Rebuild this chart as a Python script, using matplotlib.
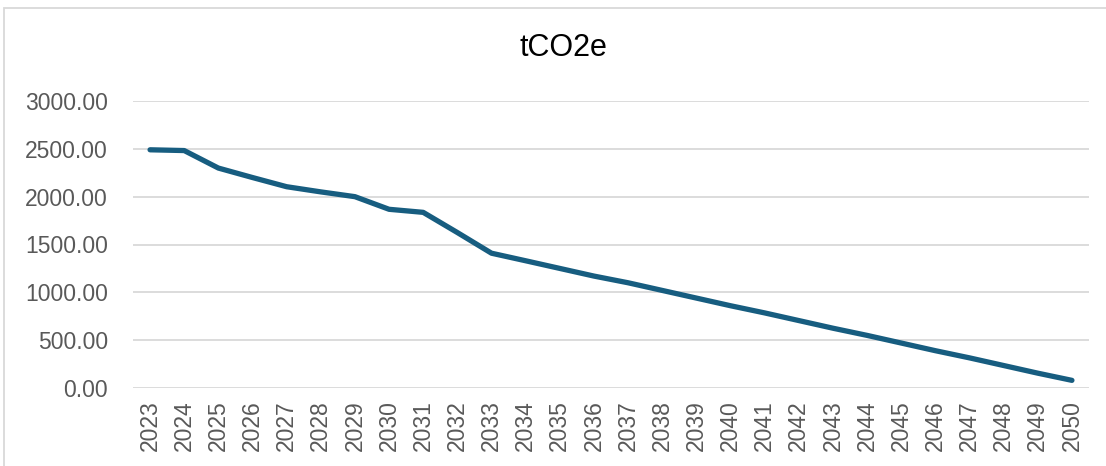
import matplotlib
matplotlib.use("Agg")
import matplotlib.pyplot as plt
from matplotlib.patches import Rectangle

years = [str(y) for y in range(2023, 2051)]
values = [2490, 2482, 2299, 2200, 2104, 2050, 2000, 1868, 1836, 1625, 1409,
          1330, 1250, 1170, 1100, 1020, 940, 860, 785, 705, 625, 550, 470,
          390, 315, 235, 155, 80]
yticks = [0, 500, 1000, 1500, 2000, 2500, 3000]
title = "tCO2e"

plt.rcParams['font.family'] = ['Liberation Sans', 'DejaVu Sans']

W, H = 1106, 466
fig = plt.figure(figsize=(W / 100, H / 100), dpi=100)
ax = fig.add_axes([133 / W, 1 - 388 / H, (1089 - 133) / W, (388 - 101) / H])

x = list(range(len(years)))
ax.plot(x, values, color='#175d80', lw=3.8, solid_capstyle='round', solid_joinstyle='round', zorder=3)

ax.set_xlim(-0.5, len(years) - 0.5)
ax.set_ylim(0, 3000)
ax.set_yticks(yticks)
ax.set_yticklabels([f"{v:.2f}" for v in yticks])
ax.set_xticks(x)
ax.set_xticklabels(years, rotation=90)
ax.tick_params(axis='both', length=0, labelsize=16.5, labelcolor='#595959')
ax.tick_params(axis='y', pad=18)
ax.tick_params(axis='x', pad=9)
ax.grid(axis='y', color='#d9d9d9', lw=1.3)
ax.set_axisbelow(True)
for s in ax.spines.values():
    s.set_visible(False)

fig.text(563 / W, 1 - 48 / H, title, ha='center', va='center', fontsize=22, color='#000000')

fig.patches.append(Rectangle((4 / W, -0.05), 1.2, 1 - 8 / H + 0.05, transform=fig.transFigure,
                             fill=False, edgecolor='#d9d9d9', lw=1.3, clip_on=False))

fig.savefig("out.png", dpi=100)
